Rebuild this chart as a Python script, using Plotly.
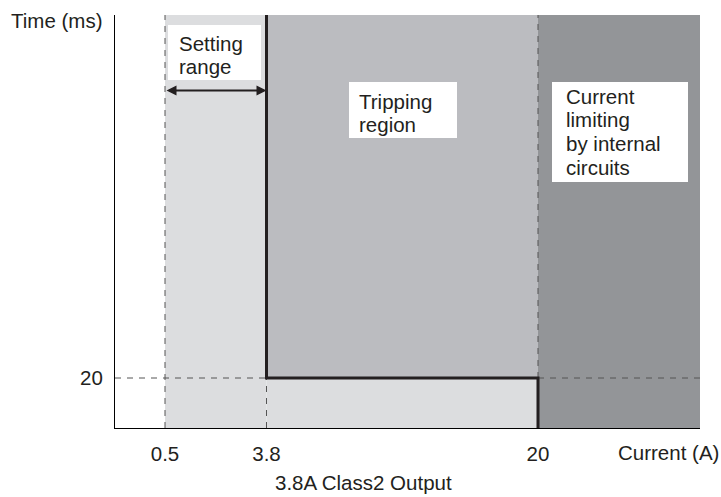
import plotly.graph_objects as go

# ---- data (schematic chart) ----
current_values = [0.5, 3.8, 20]          # A, tick values on the current axis
current_labels = ["0.5", "3.8", "20"]
current_axis_pos = [50, 151.5, 423]       # schematic axis positions (not to scale)
time_values = [20]                        # ms
time_labels = ["20"]
time_axis_pos = [50]
x_max = 585
y_max = 413

region_labels = [["Setting", "range"],
                 ["Tripping", "region"],
                 ["Current", "limiting", "by internal", "circuits"]]

C_LIGHT = "#dcdddf"
C_MED = "#bbbcc0"
C_DARK = "#939598"
C_LINE = "#231f20"
C_DASH = "#555555"
FONT = "Liberation Sans, Arial, sans-serif"
FS = 20.5

# plot-area pixel frame (for placing free text)
PL, PT, PW, PH = 115, 15, 585, 413

def px_to_data(px, py):
    return px - PL, (PT + PH) - py

x05, x38, x20 = current_axis_pos
y20 = time_axis_pos[0]

fig = go.Figure()

def rect(x0, x1, y0, y1, color):
    fig.add_trace(go.Scatter(x=[x0, x1, x1, x0, x0], y=[y0, y0, y1, y1, y0],
                             fill="toself", fillcolor=color, mode="lines",
                             line=dict(width=0), hoverinfo="skip", showlegend=False))

# regions
rect(x05, x38, 0, y_max, C_LIGHT)
rect(x38, x20, 0, y20, C_LIGHT)
rect(x38, x20, y20, y_max, C_MED)
rect(x20, x_max, 0, y_max, C_DARK)

def line(xs, ys, color, width, dash=None):
    fig.add_trace(go.Scatter(x=xs, y=ys, mode="lines",
                             line=dict(color=color, width=width, dash=dash),
                             hoverinfo="skip", showlegend=False))

dash = "6px,6px"
line([x05, x05], [0, y_max], C_DASH, 1, dash)
line([x38, x38], [0, y20], C_DASH, 1, dash)
line([x20, x20], [y20, y_max], C_DASH, 1, dash)
line([0, x38], [y20, y20], C_DASH, 1, dash)
line([x20, x_max], [y20, y20], C_DASH, 1, dash)

# tripping characteristic
line([x38, x38, x20, x20], [y_max, y20, y20, 0], C_LINE, 3)

# white label boxes (pixel extents)
boxes_px = [(168, 261, 25, 80), (349, 457, 82, 138), (552, 688, 82, 182)]
for bx0, bx1, by0, by1 in boxes_px:
    x0, y0 = px_to_data(bx0, by1)
    x1, y1 = px_to_data(bx1, by0)
    fig.add_shape(type="rect", x0=x0, x1=x1, y0=y0, y1=y1, xref="x", yref="y",
                  fillcolor="white", line=dict(width=0), layer="above")

# text lines: left x, first-line centre y, line step (pixels)
text_px = [(178, 43, 23), (358, 101, 23), (565, 96, 23.7)]
for (tx, ty, step), lines in zip(text_px, region_labels):
    for i, txt in enumerate(lines):
        dx, dy = px_to_data(tx, ty + i * step)
        fig.add_annotation(x=dx, y=dy, xref="x", yref="y", text=txt, showarrow=False,
                           xanchor="left", yanchor="middle", align="left",
                           borderpad=0, font=dict(size=FS, color="#231f20", family=FONT))

# setting range arrow
_, ay = px_to_data(0, 90.5)
fig.add_annotation(x=x38, y=ay, ax=x05, ay=ay, xref="x", yref="y",
                   axref="x", ayref="y", text="", showarrow=True,
                   arrowhead=2, arrowside="end+start", arrowsize=1,
                   arrowwidth=2, arrowcolor=C_LINE, standoff=0, startstandoff=0)

# axis titles and caption (pixel positions)
fig.add_annotation(xref="paper", yref="paper", x=(10 - PL) / PW, y=(PT + PH - 20) / PH,
                   text="Time (ms)", showarrow=False, xanchor="left", yanchor="middle",
                   borderpad=0)
fig.add_annotation(xref="paper", yref="paper", x=(720 - PL) / PW, y=(PT + PH - 452) / PH,
                   text="Current (A)", showarrow=False, xanchor="right", yanchor="middle",
                   borderpad=0)
fig.add_annotation(xref="paper", yref="paper", x=(363 - PL) / PW, y=(PT + PH - 482) / PH,
                   text="3.8A Class2 Output", showarrow=False, xanchor="center",
                   yanchor="middle", borderpad=0)

fig.update_layout(
    width=721, height=497,
    margin=dict(l=PL, r=721 - PL - PW, t=PT, b=497 - PT - PH),
    paper_bgcolor="white", plot_bgcolor="white",
    font=dict(family=FONT, size=FS, color="#231f20"),
    xaxis=dict(range=[0, x_max], tickvals=current_axis_pos, ticktext=current_labels,
               showgrid=False, zeroline=False, showline=True, linecolor="black",
               linewidth=1, ticks="", ticklabelstandoff=7, fixedrange=True),
    yaxis=dict(range=[0, y_max], tickvals=time_axis_pos, ticktext=time_labels,
               showgrid=False, zeroline=False, showline=True, linecolor="black",
               linewidth=1, ticks="", ticklabelstandoff=7, fixedrange=True),
    showlegend=False,
)

fig.write_html("out.html", config={"displayModeBar": False},
               post_script="document.body.style.margin='0';document.body.style.overflow='hidden';")
